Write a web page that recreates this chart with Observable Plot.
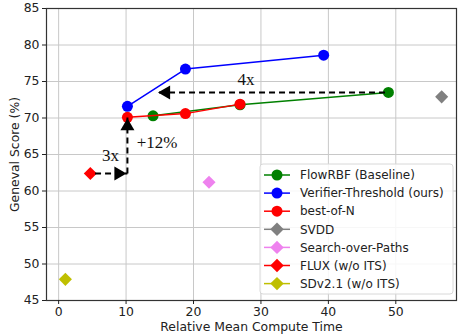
<!DOCTYPE html>
<html><head><meta charset="utf-8">
<script src="https://cdn.jsdelivr.net/npm/d3@7"></script>
<script src="https://cdn.jsdelivr.net/npm/@observablehq/plot@0.6"></script>
<style>
body{margin:0;background:#fff;}
#chart{position:relative;width:458px;height:334px;}
svg{font-family:"DejaVu Sans",sans-serif;}
</style></head>
<body><div id="chart"></div>
<script>
// Series data
const seriesNames = ["FlowRBF (Baseline)", "Verifier-Threshold (ours)", "best-of-N", "SVDD", "Search-over-Paths", "FLUX (w/o ITS)", "SDv2.1 (w/o ITS)"];
const seriesColors = ["green", "blue", "red", "gray", "violet", "red", "#bfbf00"];
const seriesSymbols = ["circle", "circle", "circle", "diamond", "diamond", "diamond", "diamond"];

const flowX = [14.0, 26.9, 48.9];
const flowY = [70.3, 71.8, 73.5];
const verX = [10.2, 18.8, 39.3];
const verY = [71.6, 76.7, 78.6];
const bonX = [10.2, 18.8, 26.9];
const bonY = [70.1, 70.6, 71.9];
const singleX = [56.8, 22.3, 4.7, 1.0];   // SVDD, Search-over-Paths, FLUX, SDv2.1
const singleY = [72.9, 61.2, 62.4, 47.9];

const xTicks = [0, 10, 20, 30, 40, 50];
const yTicks = [45, 50, 55, 60, 65, 70, 75, 80, 85];

// Annotations
const arrowX1 = [48.4, 5.4, 10.2];
const arrowY1 = [73.5, 62.4, 62.4];
const arrowX2 = [14.6, 10.2, 10.2];
const arrowY2 = [73.5, 62.4, 70.1];
const arrowDir = ["left", "right", "up"];
const noteText = ["4x", "3x", "+12%"];
const noteX = [27.8, 7.7, 14.6];
const noteY = [75.3, 64.9, 66.6];

const lines = [
  {x: flowX, y: flowY, c: seriesColors[0]},
  {x: verX, y: verY, c: seriesColors[1]},
  {x: bonX, y: bonY, c: seriesColors[2]}
];
const singles = singleX.map((x, i) => ({x, y: singleY[i], c: seriesColors[3 + i]}));
const arrows = arrowX1.map((x1, i) => ({x1, y1: arrowY1[i], x2: arrowX2[i], y2: arrowY2[i], d: arrowDir[i]}));
const notes = noteText.map((t, i) => ({t, x: noteX[i], y: noteY[i]}));

const FS = 12.4;
const marks = [
  Plot.gridX(xTicks, {stroke: "#c8c8c8", strokeOpacity: 1, strokeWidth: 1}),
  Plot.gridY(yTicks, {stroke: "#c8c8c8", strokeOpacity: 1, strokeWidth: 1}),
  Plot.frame({stroke: "#333", strokeWidth: 1.2}),
  Plot.axisX(xTicks, {tickSize: 4, fontSize: FS, tickPadding: 3, label: "Relative Mean Compute Time", labelAnchor: "center", labelArrow: "none", labelOffset: 30}),
  Plot.axisY(yTicks, {tickSize: 4, fontSize: FS, tickPadding: 3, label: "Geneval Score (%)", labelAnchor: "center", labelArrow: "none", labelOffset: 36})
];
for (const l of lines) {
  const pts = l.x.map((x, i) => ({x, y: l.y[i]}));
  marks.push(Plot.line(pts, {x: "x", y: "y", stroke: l.c, strokeWidth: 1.5}));
  marks.push(Plot.dot(pts, {x: "x", y: "y", fill: l.c, r: 5.5, symbol: "circle"}));
}
marks.push(Plot.dot(singles, {x: "x", y: "y", fill: "c", symbol: "diamond2", r: 5.9}));

// dashed shafts
marks.push(Plot.link(arrows, {
  x1: "x1", y1: "y1", x2: "x2", y2: "y2",
  stroke: "black", strokeWidth: 2, strokeDasharray: "6,4"
}));
// filled arrow heads
marks.push(Plot.dot(arrows.filter(a => a.d === "left"), {x: "x2", y: "y2", symbol: "triangle", r: 5.2, fill: "black", rotate: -90, dx: 9}));
marks.push(Plot.dot(arrows.filter(a => a.d === "right"), {x: "x2", y: "y2", symbol: "triangle", r: 5.2, fill: "black", rotate: 90, dx: -9}));
marks.push(Plot.dot(arrows.filter(a => a.d === "up"), {x: "x2", y: "y2", symbol: "triangle", r: 5.2, fill: "black", rotate: 0, dy: 9}));
marks.push(Plot.text(notes, {x: "x", y: "y", text: "t", fontSize: 17, fontFamily: "Liberation Serif", fill: "#111"}));

const chart = Plot.plot({
  width: 458, height: 334,
  marginLeft: 46, marginRight: 2, marginTop: 8, marginBottom: 34,
  x: {domain: [-1.8, 59]},
  y: {domain: [45, 85]},
  style: {fontFamily: "DejaVu Sans", fontSize: FS + "px", color: "#222"},
  marks
});
document.getElementById("chart").appendChild(chart);

// legend inside the plot area
const svg = d3.select(chart);
const lg = svg.append("g").attr("transform", "translate(260,164)").attr("text-anchor", "start");
lg.append("rect").attr("x", 0).attr("y", 0).attr("width", 193).attr("height", 130)
  .attr("rx", 3).attr("fill", "white").attr("fill-opacity", 0.85).attr("stroke", "#d8d8d8");
seriesNames.forEach((name, i) => {
  const y = 11 + i * 18.1;
  const row = lg.append("g").attr("transform", `translate(0,${y})`);
  row.append("line").attr("x1", 4).attr("x2", 30).attr("y1", 0).attr("y2", 0)
    .attr("stroke", seriesColors[i]).attr("stroke-width", 1.5);
  const isC = seriesSymbols[i] === "circle";
  row.append("path").attr("d", d3.symbol(isC ? d3.symbolCircle : d3.symbolDiamond2, isC ? 95 : 115)())
    .attr("transform", "translate(17,0)").attr("fill", seriesColors[i]);
  row.append("text").attr("x", 40).attr("y", 0).attr("dy", "0.35em")
    .attr("font-size", 12).attr("fill", "#222").attr("text-anchor", "start").text(name);
});
</script></body></html>
